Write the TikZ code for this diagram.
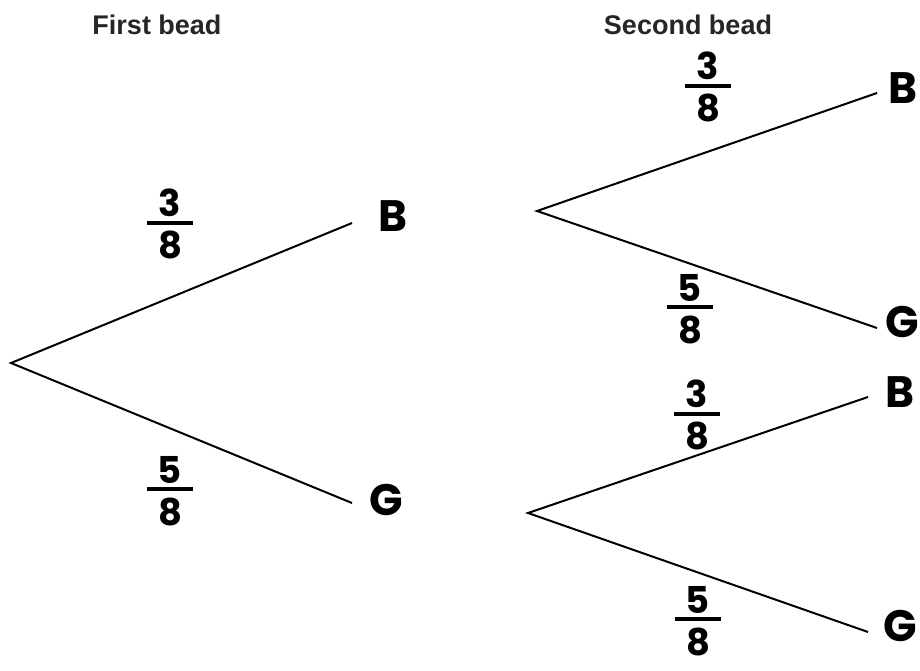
\documentclass[tikz,border=0pt]{standalone}
\usepackage{fontspec}
\setmainfont{Liberation Sans}
\newfontfamily\hand{Poppins}
\newcommand\hfr[2]{\vbox{\offinterlineskip\halign{\hfil##\hfil\cr #1\cr\noalign{\kern4pt}\rule{46pt}{4pt}\cr\noalign{\kern6pt}#2\cr}}}
\tikzset{
  branch/.style={line width=2pt, black},
  title/.style={font=\fontsize{27}{30}\selectfont\bfseries, text=black!85, inner sep=0pt},
  outcome/.style={font=\hand\fontsize{44}{46}\selectfont\bfseries, inner sep=0pt},
  prob/.style={font=\hand\fontsize{37}{40}\selectfont\bfseries, inner sep=0pt}
}
\begin{document}
\begin{tikzpicture}[x=1pt,y=-1pt]
\useasboundingbox (0,0) rectangle (920,671);
% titles
\node[title] (t1) at (157,25) {First bead};
\node[title] (t2) at (688,25) {Second bead};
% first tree
\coordinate (r1) at (11,363);
\coordinate (u1) at (352,223);
\coordinate (l1) at (352,503);
\draw[branch] (u1) -- (r1) -- (l1);
\node[outcome] (B1) at (393,216) {B};
\node[outcome] (G1) at (386,500) {G};
\node[prob] (p1) at (170,224) {\hfr{3}{8}};
\node[prob] (q1) at (170,491) {\hfr{5}{8}};
% second tree, upper
\coordinate (r2) at (537,211);
\coordinate (u2) at (877,93);
\coordinate (l2) at (877,328);
\draw[branch] (u2) -- (r2) -- (l2);
\node[outcome] (B2) at (903,88) {B};
\node[outcome] (G2) at (902,322) {G};
\node[prob] (p2) at (708,87) {\hfr{3}{8}};
\node[prob] (q2) at (690,309) {\hfr{5}{8}};
% second tree, lower
\coordinate (r3) at (528,513);
\coordinate (u3) at (868,397);
\coordinate (l3) at (868,632);
\draw[branch] (u3) -- (r3) -- (l3);
\node[outcome] (B3) at (900,392) {B};
\node[outcome] (G3) at (900,626) {G};
\node[prob] (p3) at (697,415) {\hfr{3}{8}};
\node[prob] (q3) at (698,621) {\hfr{5}{8}};
\end{tikzpicture}
\end{document}
